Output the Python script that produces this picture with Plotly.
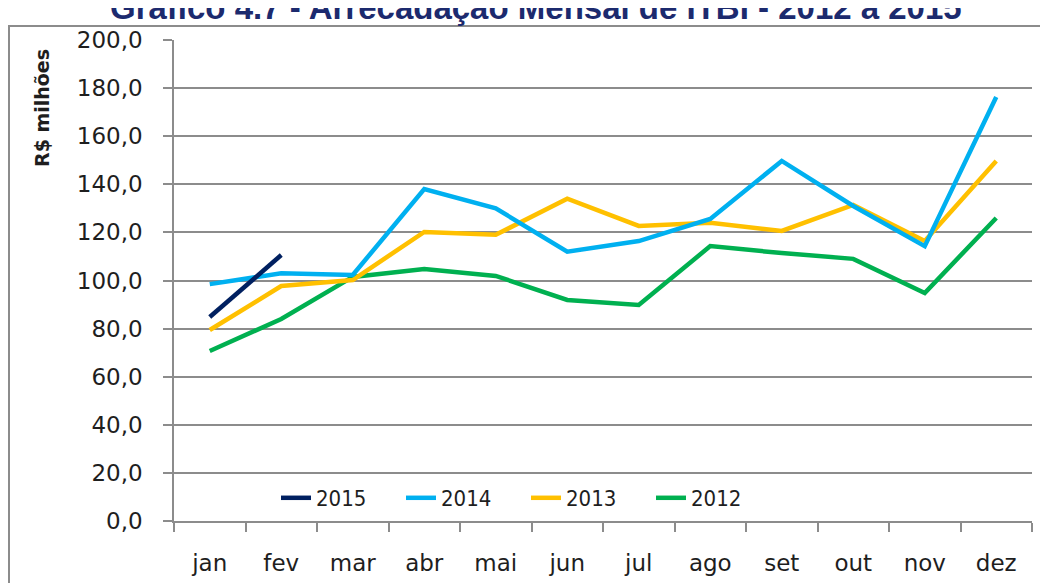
import plotly.graph_objects as go

meses = ['jan', 'fev', 'mar', 'abr', 'mai', 'jun', 'jul', 'ago', 'set', 'out', 'nov', 'dez']

v2012 = [70.7, 84.0, 101.5, 104.8, 101.9, 91.9, 89.8, 114.3, 111.4, 109.0, 94.8, 126.0]
v2013 = [79.4, 97.7, 100.2, 120.2, 119.0, 134.0, 122.7, 124.0, 120.6, 131.4, 116.4, 149.7]
v2014 = [98.5, 103.0, 102.3, 138.0, 130.0, 112.0, 116.4, 125.6, 149.7, 131.0, 114.3, 176.3]
v2015 = [84.8, 110.6]

C = {
    '2015': '#002060', '2014': '#00B0F0', '2013': '#FFC000', '2012': '#00B050',
    'grid': '#8C8C8C', 'text': '#1E1E1E', 'title': '#1C2A6E',
}

# a página tem margem de 8px: converte pixels da página para coordenadas "paper"
def px(x):
    return (x - 174) / 858

def py(y):
    return (521 - y) / 481

fig = go.Figure()

# desenhadas de 2012 para 2015, 2015 fica por cima
for nome, vals in [('2012', v2012), ('2013', v2013), ('2014', v2014), ('2015', v2015)]:
    fig.add_trace(go.Scatter(
        x=meses[:len(vals)], y=vals, name=nome, mode='lines',
        line=dict(color=C[nome], width=4.5),
    ))

eixo_font = dict(family='DejaVu Sans, sans-serif', size=23, color=C['text'])

fig.update_layout(
    width=1040, height=575,
    margin=dict(l=166, r=16, t=32, b=62, autoexpand=False),
    paper_bgcolor='white', plot_bgcolor='white',
    separators=',.',
    showlegend=True,
    legend=dict(
        orientation='h', traceorder='reversed',
        x=px(276), y=py(498), xanchor='left', yanchor='middle',
        entrywidth=80, entrywidthmode='pixels',
        bgcolor='rgba(0,0,0,0)',
        font=dict(family='Liberation Sans Narrow, DejaVu Sans Condensed, sans-serif',
                  size=22, color=C['text']),
    ),
    xaxis=dict(
        type='category', categoryorder='array', categoryarray=meses,
        range=[-0.5, 11.5],
        showline=True, linecolor=C['grid'], linewidth=1.5,
        ticks='outside', tickson='boundaries', ticklen=9, tickcolor=C['grid'], tickwidth=1.5,
        showgrid=False, tickfont=eixo_font, ticklabelstandoff=21,
    ),
    yaxis=dict(
        range=[0, 200], dtick=20, tickformat='.1f',
        showline=True, linecolor=C['grid'], linewidth=1.5,
        ticks='outside', ticklen=9, tickcolor=C['grid'], tickwidth=1.5,
        showgrid=True, gridcolor=C['grid'], gridwidth=1.5,
        zeroline=False, tickfont=eixo_font, ticklabelstandoff=16,
    ),
    shapes=[dict(
        type='rect', xref='paper', yref='paper',
        x0=px(9), x1=px(1070), y0=py(620), y1=py(26),
        line=dict(color='#8C8C8C', width=2), fillcolor='rgba(0,0,0,0)', layer='below',
    )],
    annotations=[
        dict(
            text='Gráfico 4.7 - Arrecadação Mensal de ITBI - 2012 a 2015',
            xref='paper', yref='paper', x=px(536), y=py(28),
            xanchor='center', yanchor='bottom', showarrow=False,
            font=dict(family='Liberation Sans, Arial, sans-serif', size=33,
                      color=C['title'], weight='bold'),
        ),
        dict(
            text='R$ milhões', textangle=-90,
            xref='paper', yref='paper', x=px(42), y=py(108),
            xanchor='center', yanchor='middle', showarrow=False,
            font=dict(family='DejaVu Sans, sans-serif', size=19,
                      color=C['text'], weight='bold'),
        ),
    ],
)

fig.write_html('out.html')
